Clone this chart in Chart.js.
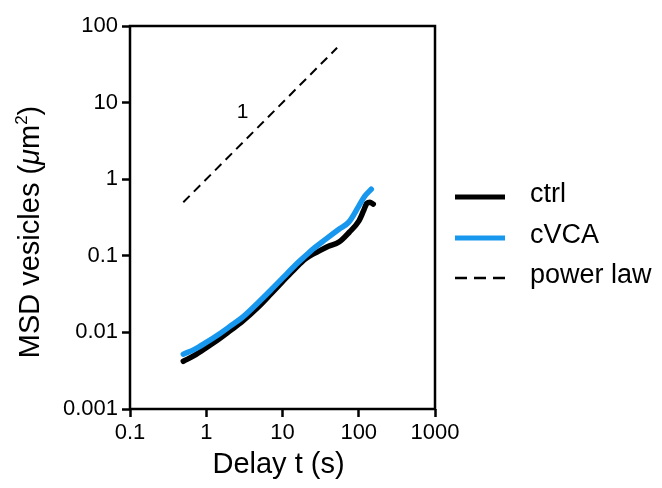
<!DOCTYPE html>
<html>
<head>
<meta charset="utf-8">
<script src="https://cdn.jsdelivr.net/npm/chart.js@4/dist/chart.umd.min.js"></script>
<style>
  html, body { margin: 0; padding: 0; background: #fff; }
  #wrap { width: 662px; height: 488px; position: relative; }
</style>
</head>
<body>
<div id="wrap"><canvas id="msd" width="662" height="488"></canvas></div>
<script>
// delay times (s) and MSD (um^2)
const CTRL_T = [0.5, 0.7, 1, 1.5, 2, 3, 5, 7, 10, 15, 20, 25, 30, 40, 55, 75, 100, 115, 128, 140, 155];
const CTRL_MSD = [0.0042, 0.005, 0.0063, 0.0083, 0.0103, 0.014, 0.0222, 0.0315, 0.046, 0.07, 0.091, 0.105, 0.115, 0.133, 0.151, 0.203, 0.283, 0.382, 0.486, 0.501, 0.472];

const CVCA_T = [0.5, 0.7, 1, 1.5, 2, 3, 5, 7, 10, 15, 20, 25, 37, 55, 74, 100, 120, 146];
const CVCA_MSD = [0.0052, 0.006, 0.0074, 0.0096, 0.0118, 0.0158, 0.0255, 0.0355, 0.051, 0.077, 0.1, 0.122, 0.165, 0.222, 0.275, 0.445, 0.6, 0.74];

// slope-1 guide line
const POWER_T = [0.5, 52];
const POWER_MSD = [0.5, 52];
const SLOPE_LABEL = { t: 3.0, msd: 7.5, text: "1" };

const X_TICKS = [0.1, 1, 10, 100, 1000];
const X_LABELS = ["0.1", "1", "10", "100", "1000"];
const Y_TICKS = [0.001, 0.01, 0.1, 1, 10, 100];
const Y_LABELS = ["0.001", "0.01", "0.1", "1", "10", "100"];

const FONT = "'Liberation Sans', Arial, Helvetica, sans-serif";
const BLUE = "#1897ee";

function toPoints(xs, ys) {
   return xs.map((x, i) => ({ x, y: ys[i] }));
}

const overlay = {
   id: "overlay",
   afterDraw(chart) {
      const { ctx, chartArea: a, scales } = chart;
      ctx.save();

      // frame
      ctx.strokeStyle = "#000";
      ctx.lineWidth = 2.5;
      ctx.strokeRect(a.left, a.top, a.right - a.left, a.bottom - a.top);

      // slope label
      ctx.fillStyle = "#000";
      ctx.font = `21px ${FONT}`;
      ctx.textAlign = "center";
      ctx.textBaseline = "middle";
      ctx.fillText(SLOPE_LABEL.text, scales.x.getPixelForValue(SLOPE_LABEL.t), scales.y.getPixelForValue(SLOPE_LABEL.msd));

      // x title
      ctx.font = `29px ${FONT}`;
      ctx.fillText("Delay t (s)", (a.left + a.right) / 2 - 4, 465);

      // y title with italic mu and superscript
      const parts = [
         { t: "MSD vesicles (", f: `29px ${FONT}`, dy: 0 },
         { t: "\u03bc", f: `italic 29px ${FONT}`, dy: 0 },
         { t: "m", f: `29px ${FONT}`, dy: 0 },
         { t: "2", f: `17px ${FONT}`, dy: -9 },
         { t: ")", f: `29px ${FONT}`, dy: 0 },
      ];
      let total = 0;
      parts.forEach((p) => { ctx.font = p.f; p.w = ctx.measureText(p.t).width; total += p.w; });
      ctx.translate(31, 232);
      ctx.rotate(-Math.PI / 2);
      ctx.textAlign = "left";
      let x = -total / 2;
      parts.forEach((p) => {
         ctx.font = p.f;
         ctx.fillText(p.t, x, p.dy);
         x += p.w;
      });
      ctx.restore();

      // legend
      ctx.save();
      const rows = [197, 238, 278];
      chart.data.datasets.slice().sort((d1, d2) => d1.legendIdx - d2.legendIdx).forEach((ds, i) => {
         const y = rows[i];
         ctx.strokeStyle = ds.borderColor;
         ctx.lineWidth = ds.legendWidth;
         ctx.lineCap = "butt";
         ctx.setLineDash(ds.borderDash && ds.borderDash.length ? [12, 7] : []);
         ctx.beginPath();
         ctx.moveTo(455, y);
         ctx.lineTo(505, y);
         ctx.stroke();
         ctx.setLineDash([]);
         ctx.fillStyle = "#000";
         ctx.font = `27px ${FONT}`;
         ctx.textAlign = "left";
         ctx.textBaseline = "middle";
         ctx.fillText(ds.label, 530, y - 2);
      });
      ctx.restore();
   },
};

function axisOpts(min, max, ticks, labels, isY) {
   return {
      type: "logarithmic",
      min,
      max,
      afterBuildTicks: (scale) => {
         scale.ticks = ticks.map((v) => ({ value: v }));
      },
      afterFit: (scale) => {
         if (isY) scale.width = 130;
         else scale.height = 79;
      },
      ticks: {
         autoSkip: false,
         maxRotation: 0,
         color: "#000",
         padding: isY ? 4 : 3,
         font: { family: FONT, size: 22 },
         callback: (v, idx) => labels[idx],
      },
      grid: {
         display: true,
         drawOnChartArea: false,
         drawTicks: true,
         tickLength: 8,
         tickWidth: 2.5,
         tickColor: "#000",
      },
      border: { display: false },
   };
}

new Chart(document.getElementById("msd"), {
   type: "line",
   data: {
      datasets: [
         {
            label: "ctrl",
            data: toPoints(CTRL_T, CTRL_MSD),
            borderColor: "#000",
            borderWidth: 5.5,
            legendWidth: 5,
            legendIdx: 0,
            order: 2,
            pointRadius: 0,
            cubicInterpolationMode: "monotone",
            borderCapStyle: "round",
            borderJoinStyle: "round",
         },
         {
            label: "cVCA",
            data: toPoints(CVCA_T, CVCA_MSD),
            borderColor: BLUE,
            borderWidth: 5.5,
            legendWidth: 5,
            legendIdx: 1,
            order: 1,
            pointRadius: 0,
            cubicInterpolationMode: "monotone",
            borderCapStyle: "round",
            borderJoinStyle: "round",
         },
         {
            label: "power law",
            data: toPoints(POWER_T, POWER_MSD),
            borderColor: "#000",
            borderWidth: 2,
            legendWidth: 2.5,
            legendIdx: 2,
            order: 3,
            borderDash: [9, 6],
            pointRadius: 0,
            tension: 0,
         },
      ],
   },
   options: {
      responsive: false,
      animation: false,
      layout: { padding: { left: 0, top: 26, right: 227, bottom: 0 } },
      plugins: { legend: { display: false }, tooltip: { enabled: false } },
      scales: {
         x: axisOpts(0.1, 1000, X_TICKS, X_LABELS, false),
         y: axisOpts(0.001, 100, Y_TICKS, Y_LABELS, true),
      },
   },
   plugins: [overlay],
});
</script>
</body>
</html>
